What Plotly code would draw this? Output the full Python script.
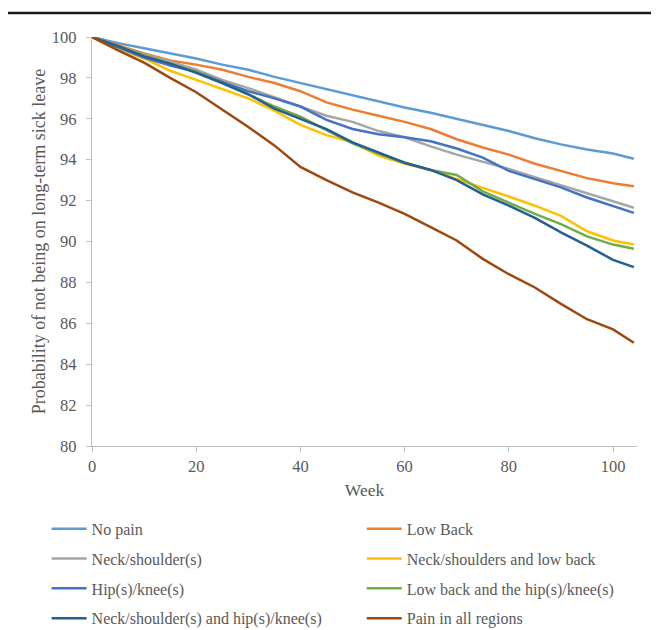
import plotly.graph_objects as go

weeks = [0, 5, 10, 15, 20, 25, 30, 35, 40, 45, 50, 55, 60, 65, 70, 75, 80, 85, 90, 95, 100, 104]

no_pain = [100, 99.7, 99.45, 99.2, 98.95, 98.65, 98.4, 98.05, 97.75, 97.42, 97.15, 96.85,
           96.55, 96.3, 96.0, 95.7, 95.4, 95.05, 94.75, 94.5, 94.3, 94.05]
low_back = [100, 99.6, 99.2, 98.85, 98.65, 98.4, 98.05, 97.75, 97.35, 96.8, 96.45, 96.15,
            95.85, 95.5, 95.0, 94.6, 94.25, 93.8, 93.45, 93.1, 92.85, 92.7]
neck_shoulder = [100, 99.55, 99.15, 98.8, 98.4, 97.9, 97.5, 97.05, 96.6, 96.15, 95.85, 95.4,
                 95.1, 94.65, 94.25, 93.9, 93.55, 93.15, 92.75, 92.35, 91.95, 91.65]
neck_low_back = [100, 99.45, 98.95, 98.35, 97.9, 97.45, 97.0, 96.4, 95.7, 95.2, 94.85, 94.2,
                 93.8, 93.5, 93.05, 92.62, 92.2, 91.75, 91.25, 90.5, 90.05, 89.85]
hip_knee = [100, 99.5, 99.0, 98.6, 98.3, 97.8, 97.35, 97.0, 96.6, 95.95, 95.5, 95.25,
            95.1, 94.9, 94.55, 94.1, 93.45, 93.05, 92.65, 92.15, 91.75, 91.4]
low_back_hip_knee = [100, 99.55, 99.1, 98.7, 98.3, 97.75, 97.2, 96.6, 96.1, 95.45, 94.8, 94.3,
                     93.85, 93.5, 93.25, 92.45, 91.9, 91.35, 90.85, 90.25, 89.85, 89.65]
neck_hip_knee = [100, 99.55, 99.05, 98.7, 98.25, 97.75, 97.2, 96.5, 96.0, 95.5, 94.85, 94.35,
                 93.85, 93.5, 93.0, 92.3, 91.75, 91.15, 90.45, 89.8, 89.1, 88.75]
all_regions = [100, 99.35, 98.75, 98.0, 97.3, 96.45, 95.6, 94.7, 93.65, 93.0, 92.4, 91.9,
               91.35, 90.7, 90.05, 89.15, 88.4, 87.75, 86.95, 86.2, 85.7, 85.05]

col1 = [("No pain", no_pain, "#5B9BD5"),
        ("Neck/shoulder(s)", neck_shoulder, "#A5A5A5"),
        ("Hip(s)/knee(s)", hip_knee, "#4472C4"),
        ("Neck/shoulder(s) and hip(s)/knee(s)", neck_hip_knee, "#255E91")]
col2 = [("Low Back", low_back, "#ED7D31"),
        ("Neck/shoulders and low back", neck_low_back, "#FFC000"),
        ("Low back and the hip(s)/knee(s)", low_back_hip_knee, "#70AD47"),
        ("Pain in all regions", all_regions, "#9E480E")]

x_ticks = [0, 20, 40, 60, 80, 100]
y_ticks = [80, 82, 84, 86, 88, 90, 92, 94, 96, 98, 100]

FONT = "Liberation Serif"
GREY = "#595959"
AXIS = "#BFBFBF"

fig = go.Figure()
order = [col1[0], col2[0], col1[1], col2[1], col1[2], col2[2], col1[3], col2[3]]
for i, (name, vals, color) in enumerate(order):
    legend = "legend" if i % 2 == 0 else "legend2"
    fig.add_trace(go.Scatter(x=weeks, y=vals, mode="lines", name=name,
                             line=dict(color=color, width=2.5),
                             legend=legend, legendgroup=name))

leg_common = dict(yanchor="top", y=-0.161, xanchor="left",
                  traceorder="grouped", tracegroupgap=6, itemwidth=35,
                  font=dict(family=FONT, size=16, color=GREY),
                  bgcolor="rgba(0,0,0,0)")

# page body adds an 8px offset, so the figure is 8px smaller than the window
fig.update_layout(
    width=651, height=622,
    margin=dict(l=84, r=22, t=29, b=184, autoexpand=False),
    paper_bgcolor="white", plot_bgcolor="white",
    font=dict(family=FONT, color=GREY, size=16),
    legend=dict(x=-0.0833, **leg_common),
    legend2=dict(x=0.495, **leg_common),
    xaxis=dict(range=[0, 104.6], tickvals=x_ticks, showgrid=False, zeroline=False,
               automargin=False,
               showline=True, linecolor=AXIS, linewidth=1.3,
               ticks="outside", ticklen=5, tickcolor=AXIS, tickwidth=1.3,
               tickfont=dict(family=FONT, size=16.5, color=GREY),
               title=dict(text="Week", font=dict(family=FONT, size=17.5, color=GREY), standoff=8)),
    yaxis=dict(range=[80, 100], tickvals=y_ticks, showgrid=False, zeroline=False,
               automargin=False,
               showline=True, linecolor=AXIS, linewidth=1.3,
               ticks="outside", ticklen=5, tickcolor=AXIS, tickwidth=1.3,
               ticklabelstandoff=6,
               tickfont=dict(family=FONT, size=16.5, color=GREY),
               title=dict(text="Probability of not being on long-term sick leave",
                          font=dict(family=FONT, size=18, color=GREY), standoff=1)),
    shapes=[dict(type="line", xref="paper", yref="paper", x0=-0.156, x1=1.05,
                 y0=1.0587, y1=1.0587, line=dict(color="#1a1a1a", width=2.5))],
)

fig.write_html("out.html")
